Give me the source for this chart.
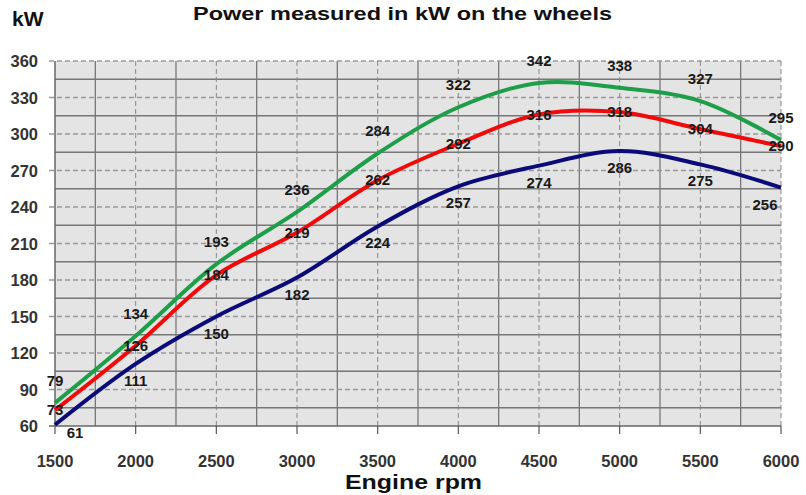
<!DOCTYPE html>
<head>
  <meta charset="utf-8" />
  <script src="https://cdn.jsdelivr.net/npm/d3@7"></script>
  <style>
    body {
      margin: 0;
      background-color: #ffffff;
    }
    text {
      font-family: "Liberation Sans", Arial, sans-serif;
    }
  </style>
</head>

<body>
  <script>
    var rpm = [1500, 2000, 2500, 3000, 3500, 4000, 4500, 5000, 5500, 6000];
    var green = [79, 134, 193, 236, 284, 322, 342, 338, 327, 295];
    var red = [73, 126, 184, 219, 262, 292, 316, 318, 304, 290];
    var blue = [61, 111, 150, 182, 224, 257, 274, 286, 275, 256];
    var yTicks = [60, 90, 120, 150, 180, 210, 240, 270, 300, 330, 360];
    var xTicks = [1500, 2000, 2500, 3000, 3500, 4000, 4500, 5000, 5500, 6000];

    var width = 806,
      height = 495;
    var margin = { top: 61, right: 25, bottom: 69, left: 55 };

    var svg = d3
      .select("body")
      .append("svg")
      .attr("width", width)
      .attr("height", height);

    var x = d3
      .scaleLinear()
      .domain([1500, 6000])
      .range([margin.left, width - margin.right]);
    var y = d3
      .scaleLinear()
      .domain([60, 360])
      .range([height - margin.bottom, margin.top]);

    // plot background
    svg
      .append("rect")
      .attr("x", x(1500))
      .attr("y", y(360))
      .attr("width", x(6000) - x(1500))
      .attr("height", y(60) - y(360))
      .attr("fill", "#e4e4e4");

    var grid = svg.append("g");

    // solid lines halfway between ticks
    d3.range(75, 360, 30).forEach(v => {
      grid
        .append("line")
        .attr("x1", x(1500))
        .attr("x2", x(6000))
        .attr("y1", y(v))
        .attr("y2", y(v))
        .attr("stroke", "#777")
        .attr("stroke-width", 1.3);
    });
    d3.range(1750, 6000, 500).forEach(v => {
      grid
        .append("line")
        .attr("x1", x(v))
        .attr("x2", x(v))
        .attr("y1", y(60))
        .attr("y2", y(360))
        .attr("stroke", "#777")
        .attr("stroke-width", 1.3);
    });

    // dashed lines on ticks
    yTicks.slice(1).forEach(v => {
      grid
        .append("line")
        .attr("x1", x(1500) - 6)
        .attr("x2", x(6000))
        .attr("y1", y(v))
        .attr("y2", y(v))
        .attr("stroke", "#999")
        .attr("stroke-width", 1.3)
        .attr("stroke-dasharray", "5,3");
    });
    xTicks.slice(1).forEach(v => {
      grid
        .append("line")
        .attr("x1", x(v))
        .attr("x2", x(v))
        .attr("y1", y(60))
        .attr("y2", y(360))
        .attr("stroke", "#888")
        .attr("stroke-width", 1)
        .attr("stroke-dasharray", "5,3");
    });

    // axes lines
    grid
      .append("line")
      .attr("x1", x(1500))
      .attr("x2", x(1500))
      .attr("y1", y(60))
      .attr("y2", y(360))
      .attr("stroke", "#666")
      .attr("stroke-width", 1.5);
    grid
      .append("line")
      .attr("x1", x(1500) - 6)
      .attr("x2", x(6000))
      .attr("y1", y(60))
      .attr("y2", y(60))
      .attr("stroke", "#666")
      .attr("stroke-width", 1.5);
    xTicks.forEach(v => {
      grid
        .append("line")
        .attr("x1", x(v))
        .attr("x2", x(v))
        .attr("y1", y(60))
        .attr("y2", y(60) + 8)
        .attr("stroke", "#555")
        .attr("stroke-width", 1.2);
    });

    // tick labels
    svg
      .append("g")
      .selectAll("text")
      .data(yTicks)
      .enter()
      .append("text")
      .attr("x", 38)
      .attr("y", d => y(d) + 6)
      .attr("text-anchor", "end")
      .attr("font-size", 16.5)
      .attr("font-weight", "bold")
      .attr("fill", "#333")
      .text(d => d);

    svg
      .append("g")
      .selectAll("text")
      .data(xTicks)
      .enter()
      .append("text")
      .attr("x", d => x(d))
      .attr("y", 467)
      .attr("text-anchor", "middle")
      .attr("font-size", 16.5)
      .attr("font-weight", "bold")
      .attr("fill", "#333")
      .text(d => d);

    // curves
    var line = d3
      .line()
      .x((d, i) => x(rpm[i]))
      .y(d => y(d))
      .curve(d3.curveCatmullRom.alpha(0.5));

    var series = [
      { values: green, color: "#1e9e48", dy: -17 },
      { values: red, color: "#f20a0a", dy: 5 },
      { values: blue, color: "#0a0a7a", dy: 22 }
    ];

    series.forEach(s => {
      svg
        .append("path")
        .datum(s.values)
        .attr("d", line)
        .attr("fill", "none")
        .attr("stroke", s.color)
        .attr("stroke-width", 4)
        .attr("stroke-linejoin", "round");
    });

    // value labels
    series.forEach((s, k) => {
      svg
        .append("g")
        .selectAll("text")
        .data(s.values)
        .enter()
        .append("text")
        .attr("x", (d, i) => {
          if (k == 2 && i == 0) return x(rpm[i]) + 20;
          if (k == 2 && i == s.values.length - 1) return x(rpm[i]) - 16;
          return x(rpm[i]);
        })
        .attr("y", (d, i) => {
          if (k == 2 && i == 0) return y(d) + 13;
          return y(d) + s.dy;
        })
        .attr("text-anchor", "middle")
        .attr("font-size", 15)
        .attr("font-weight", "bold")
        .attr("fill", "#1a1a1a")
        .text(d => d);
    });

    // titles
    svg
      .append("text")
      .attr("x", 12)
      .attr("y", 26)
      .attr("font-size", 21)
      .attr("font-weight", "bold")
      .attr("fill", "#111")
      .text("kW");

    svg
      .append("text")
      .attr("x", 193)
      .attr("y", 20)
      .attr("font-size", 18)
      .attr("font-weight", "bold")
      .attr("fill", "#111")
      .attr("textLength", 419)
      .attr("lengthAdjust", "spacingAndGlyphs")
      .text("Power measured in kW on the wheels");

    svg
      .append("text")
      .attr("x", 345)
      .attr("y", 489)
      .attr("font-size", 20)
      .attr("font-weight", "bold")
      .attr("fill", "#111")
      .attr("textLength", 137)
      .attr("lengthAdjust", "spacingAndGlyphs")
      .text("Engine rpm");
  </script>
</body>
